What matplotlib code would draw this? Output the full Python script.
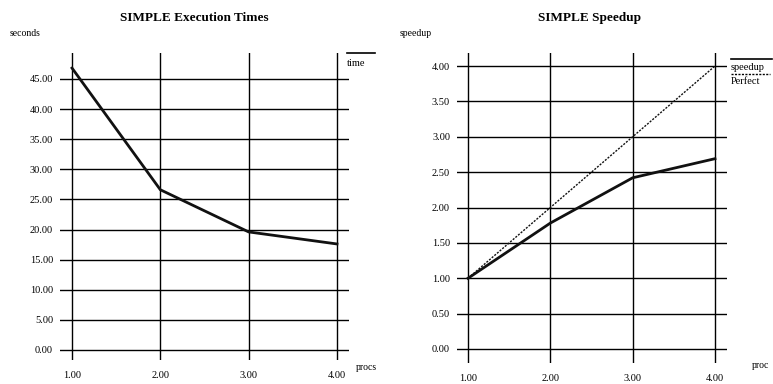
"""
SIMPLE benchmark: execution times and speedup vs. number of processors
"""

import matplotlib
matplotlib.use('Agg')
import matplotlib.pyplot as plt
from matplotlib.lines import Line2D

# Data
procs = [1, 2, 3, 4]
exec_time = [46.8, 26.6, 19.6, 17.6]
speedup = [1.00, 1.78, 2.42, 2.69]
perfect = [1.00, 2.00, 3.00, 4.00]

time_ticks = [0, 5, 10, 15, 20, 25, 30, 35, 40, 45]
speed_ticks = [0.0, 0.5, 1.0, 1.5, 2.0, 2.5, 3.0, 3.5, 4.0]

W, H = 773, 384

plt.rcParams['font.family'] = ['Liberation Serif', 'DejaVu Serif']

fig = plt.figure(figsize=(W / 100, H / 100), dpi=100)


def px_axes(x0, y0, x1, y1):
    # axes box given in pixel coords (top-left origin)
    return fig.add_axes([x0 / W, (H - y1) / H, (x1 - x0) / W, (y1 - y0) / H])


def style(ax, yticks, fmt='%.2f'):
    for s in ax.spines.values():
        s.set_visible(False)
    ax.set_xticks(procs)
    ax.set_xticklabels(['%.2f' % p for p in procs])
    ax.set_yticks(yticks)
    ax.set_yticklabels([fmt % t for t in yticks])
    ax.tick_params(length=0, labelsize=7.5, colors='black')
    ax.tick_params(axis='x', pad=8)
    ax.tick_params(axis='y', pad=5)
    ax.grid(True, color='black', linewidth=1.0)
    ax.set_axisbelow(True)


# --- left: execution times
ax1 = px_axes(60, 53, 349, 360)
ax1.plot(procs, exec_time, color='#111111', linewidth=2.0, zorder=3)
ax1.set_xlim(0.864, 4.136)
ax1.set_ylim(-1.66, 49.3)
style(ax1, time_ticks)

fig.text(194 / W, 1 - 18 / H, 'SIMPLE Execution Times', ha='center', va='center',
         fontsize=9.5, fontweight='bold')
fig.text(10 / W, 1 - 34 / H, 'seconds', ha='left', va='center', fontsize=7)
fig.text(356 / W, 1 - 367 / H, 'procs', ha='left', va='center', fontsize=7)
fig.text(347 / W, 1 - 63 / H, 'time', ha='left', va='center', fontsize=7.5)
fig.add_artist(Line2D([347 / W, 375 / W], [1 - 53 / H, 1 - 53 / H], color='black', linewidth=1.2))

# --- right: speedup
ax2 = px_axes(457, 53, 727, 363)
ax2.plot(procs, perfect, color='#111111', linewidth=1.0, linestyle=(0, (1.5, 1.0)), zorder=3)
ax2.plot(procs, speedup, color='#111111', linewidth=2.0, zorder=3)
ax2.set_xlim(0.866, 4.146)
ax2.set_ylim(-0.198, 4.184)
style(ax2, speed_ticks)

fig.text(590 / W, 1 - 18 / H, 'SIMPLE Speedup', ha='center', va='center',
         fontsize=9.5, fontweight='bold')
fig.text(400 / W, 1 - 34 / H, 'speedup', ha='left', va='center', fontsize=7)
fig.text(752 / W, 1 - 366 / H, 'proc', ha='left', va='center', fontsize=7)
fig.text(731 / W, 1 - 67 / H, 'speedup', ha='left', va='center', fontsize=7.5)
fig.text(731 / W, 1 - 82 / H, 'Perfect', ha='left', va='center', fontsize=7.5)
fig.add_artist(Line2D([731 / W, 772 / W], [1 - 59 / H, 1 - 59 / H], color='black', linewidth=1.2))
fig.add_artist(Line2D([731 / W, 770 / W], [1 - 74 / H, 1 - 74 / H], color='black',
                      linewidth=1.0, linestyle=(0, (1.5, 1.0))))

fig.savefig('out.png', dpi=100, facecolor='white')
plt.close(fig)
